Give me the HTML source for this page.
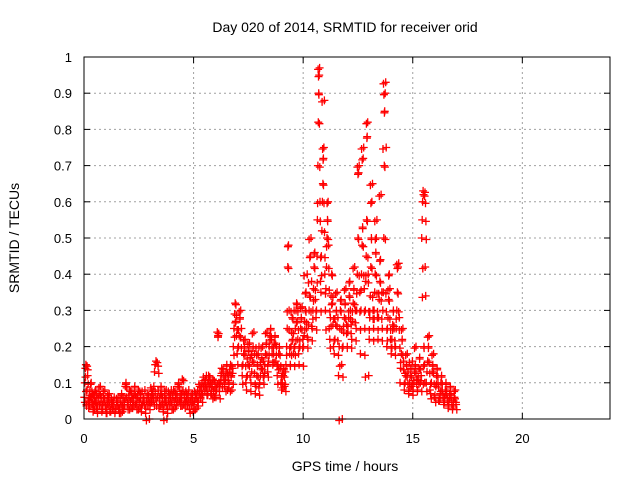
<!DOCTYPE html>
<html><head><meta charset="utf-8"><style>
body{margin:0;background:#fff}
svg{display:block;font-family:"Liberation Sans",sans-serif}
</style></head><body>
<svg id="chart" width="640" height="480" xmlns="http://www.w3.org/2000/svg">
<rect width="640" height="480" fill="#fff"/>
<g id="grid"></g>
<g id="pts"></g>
<rect x="84" y="57" width="526" height="362" fill="none" stroke="#000" stroke-width="1"/>
<g id="ticks"></g>
<text x="345" y="32" font-size="14" text-anchor="middle">Day 020 of 2014, SRMTID for receiver orid</text>
<text x="345" y="471" font-size="14" text-anchor="middle">GPS time / hours</text>
<text transform="translate(19,238) rotate(-90)" font-size="14" text-anchor="middle">SRMTID / TECUs</text>
</svg>
<script>
const xTicks=[0,5,10,15,20];
const yTicks=[0,0.1,0.2,0.3,0.4,0.5,0.6,0.7,0.8,0.9,1];
const yTickLabels=["0","0.1","0.2","0.3","0.4","0.5","0.6","0.7","0.8","0.9","1"];
const binStarts=[0,0.2,0.4,0.6,0.8,1.0,1.2,1.4,1.6,1.8,2.0,2.2,2.4,2.6,2.8,3.0,3.2,3.4,3.6,3.8,4.0,4.2,4.4,4.6,4.8,5.0,5.2,5.4,5.6,5.8,6.0,6.2,6.4,6.6,6.8,7.0,7.2,7.4,7.6,7.8,8.0,8.2,8.4,8.6,8.8,9.0,9.2,9.4,9.6,9.8,10.0,10.2,10.4,10.6,10.8,11.0,11.2,11.4,11.6,11.8,12.0,12.2,12.4,12.6,12.8,13.0,13.2,13.4,13.6,13.8,14.0,14.2,14.4,14.6,14.8,15.0,15.2,15.4,15.6,15.8,16.0,16.2,16.4,16.6,16.8];
const binValues=[
[0.06,0.1,0.14,0.15,0.04,0.08,0.12,0.05],[0.03,0.05,0.08,0.06,0.1,0.04,0.07],[0.02,0.04,0.06,0.05,0.08,0.03,0.07],[0.03,0.05,0.07,0.04,0.09,0.06],[0.02,0.04,0.06,0.05,0.08,0.03],
[0.03,0.05,0.04,0.06,0.07,0.02],[0.02,0.04,0.03,0.05,0.06],[0.02,0.03,0.05,0.04,0.06,0.03],[0.03,0.05,0.04,0.07,0.02,0.06],[0.03,0.05,0.09,0.1,0.06,0.04],
[0.04,0.06,0.08,0.05,0.03,0.07],[0.03,0.05,0.07,0.09,0.04,0.06],[0.04,0.06,0.08,0.05,0.03,0.07],[0.02,0.04,0.06,0.05,0.08],[0.03,0.05,0.07,0.04,0.06,0],
[0.04,0.06,0.08,0.07,0.05,0.09],[0.13,0.15,0.16,0.04,0.06,0.08],[0.03,0.05,0.07,0.09,0.04,0.06],[0.02,0.04,0.06,0.05,0.08,0],[0.03,0.05,0.07,0.04,0.06,0.08],
[0.04,0.06,0.08,0.05,0.03,0.07],[0.04,0.06,0.09,0.1,0.05,0.07],[0.05,0.07,0.11,0.08,0.04,0.06],[0.03,0.05,0.07,0.04,0.06,0.08],[0.03,0.05,0.06,0.04,0.07,0.02],
[0.04,0.05,0.07,0.06,0.03,0.08],[0.05,0.07,0.09,0.06,0.08,0.1],[0.07,0.09,0.1,0.08,0.11,0.12],[0.08,0.1,0.12,0.09,0.11,0.07],[0.07,0.09,0.11,0.08,0.06,0.1],
[0.06,0.08,0.24,0.23,0.1,0.09],[0.1,0.12,0.14,0.09,0.13,0.11],[0.09,0.11,0.13,0.15,0.08,0.12],[0.1,0.13,0.15,0.12,0.08,0.14],[0.2,0.25,0.29,0.32,0.27,0.23,0.18],
[0.15,0.2,0.23,0.28,0.3,0.25],[0.12,0.15,0.18,0.2,0.22,0.1],[0.08,0.12,0.15,0.19,0.21,0.17],[0.1,0.13,0.16,0.2,0.24,0.18],[0.07,0.09,0.12,0.15,0.18,0.2],
[0.1,0.12,0.14,0.17,0.2,0.16],[0.12,0.15,0.18,0.21,0.24,0.13],[0.16,0.2,0.23,0.25,0.22,0.18],[0.15,0.18,0.21,0.23,0.16,0.2],[0.12,0.15,0.18,0.2,0.14,0.1],
[0.08,0.1,0.12,0.14,0.09,0.13],[0.15,0.2,0.25,0.42,0.48,0.3,0.18],[0.15,0.2,0.24,0.28,0.22,0.18,0.3],[0.2,0.25,0.3,0.32,0.27,0.22,0.18],[0.15,0.2,0.25,0.28,0.31,0.22],
[0.2,0.23,0.27,0.3,0.35,0.25,0.4],[0.22,0.26,0.3,0.34,0.45,0.5,0.38],[0.25,0.3,0.36,0.42,0.46,0.33,0.28],[0.3,0.45,0.55,0.7,0.82,0.9,0.95,0.97,0.6,0.38],[0.35,0.45,0.52,0.6,0.65,0.72,0.75,0.88,0.4],
[0.3,0.36,0.42,0.5,0.55,0.6,0.48,0.25],[0.22,0.28,0.34,0.4,0.32,0.26,0.2],[0.18,0.22,0.26,0.3,0.35,0.28],[0.12,0.2,0.25,0.3,0.33,0.15,0],[0.2,0.24,0.28,0.32,0.36,0.26],
[0.2,0.24,0.28,0.34,0.38,0.3,0.26],[0.22,0.27,0.32,0.36,0.42,0.3],[0.25,0.3,0.4,0.5,0.68,0.7,0.35],[0.18,0.3,0.4,0.48,0.53,0.72,0.75,0.36],[0.25,0.3,0.38,0.45,0.55,0.78,0.82,0.4,0.12],
[0.22,0.28,0.34,0.42,0.5,0.6,0.65,0.3],[0.25,0.3,0.35,0.4,0.46,0.5,0.55,0.28],[0.22,0.28,0.33,0.38,0.44,0.62,0.35],[0.25,0.3,0.35,0.5,0.7,0.85,0.9,0.93,0.75],[0.2,0.25,0.28,0.33,0.4,0.36,0.22],
[0.18,0.22,0.26,0.3,0.25,0.2],[0.2,0.25,0.3,0.35,0.42,0.43,0.28],[0.1,0.14,0.18,0.22,0.25,0.16],[0.08,0.1,0.12,0.15,0.18,0.13],[0.07,0.1,0.12,0.14,0.09,0.16],
[0.08,0.1,0.13,0.15,0.2,0.11],[0.08,0.11,0.14,0.17,0.1,0.12],[0.5,0.55,0.6,0.63,0.62,0.2,0.15,0.1,0.42,0.34],[0.1,0.13,0.16,0.2,0.23,0.08],[0.07,0.1,0.13,0.15,0.18,0.06],
[0.06,0.09,0.12,0.14,0.1,0.05],[0.05,0.07,0.1,0.12,0.08,0.06],[0.04,0.06,0.08,0.1,0.07,0.05],[0.03,0.05,0.07,0.09,0.06,0.04],[0.03,0.05,0.06,0.08,0.04]
];
const X0=84,X1=610,Y0=419,Y1=57,XMAX=24;
function sx(v){return X0+v/XMAX*(X1-X0);}
function sy(v){return Y0-v*(Y0-Y1);}
const NS="http://www.w3.org/2000/svg";
function mk(tag,attrs,parent){const e=document.createElementNS(NS,tag);for(const k in attrs)e.setAttribute(k,attrs[k]);parent.appendChild(e);return e;}
const grid=document.getElementById('grid'),ticks=document.getElementById('ticks'),pts=document.getElementById('pts');
yTicks.forEach((t,i)=>{
  const y=sy(t);
  if(t>0&&t<1){const g=mk('line',{x1:X0,x2:X1,y1:y,y2:y,stroke:'#a0a0a0','stroke-dasharray':'2,3'},grid);
  
  }
  mk('line',{x1:X0,x2:X0+6,y1:y,y2:y,stroke:'#000'},ticks);
  mk('line',{x1:X1-6,x2:X1,y1:y,y2:y,stroke:'#000'},ticks);
  const l=mk('text',{x:72,y:y+5,'font-size':13,'text-anchor':'end'},ticks);
  l.textContent=yTickLabels[i];
  
  
});
xTicks.forEach(t=>{
  const x=sx(t);
  if(t>0){const g=mk('line',{x1:x,x2:x,y1:Y1,y2:Y0,stroke:'#a0a0a0','stroke-dasharray':'2,3'},grid);
  
  }
  mk('line',{x1:x,x2:x,y1:Y0,y2:Y0-6,stroke:'#000'},ticks);
  mk('line',{x1:x,x2:x,y1:Y1,y2:Y1+6,stroke:'#000'},ticks);
  const l=mk('text',{x:x,y:443,'font-size':13,'text-anchor':'middle'},ticks);
  l.textContent=String(t);
  
  
});
let d='';
function cross(x,y){d+=`M${(x-4).toFixed(1)} ${y.toFixed(1)}h8M${x.toFixed(1)} ${(y-4).toFixed(1)}v8`;}
binStarts.forEach((b,i)=>{
  const vals=binValues[i],n=vals.length;
  vals.forEach((v,j)=>{
    const y=sy(v);
    cross(sx(b+(j+0.5)/n*0.2),y);
    cross(sx(b+(n-j-0.5)/n*0.2+0.03),y+1.5);
  });
});
const p=mk('path',{d:d,stroke:'#ff0000','stroke-width':1.3,fill:'none'},pts);


</script>
</body></html>
